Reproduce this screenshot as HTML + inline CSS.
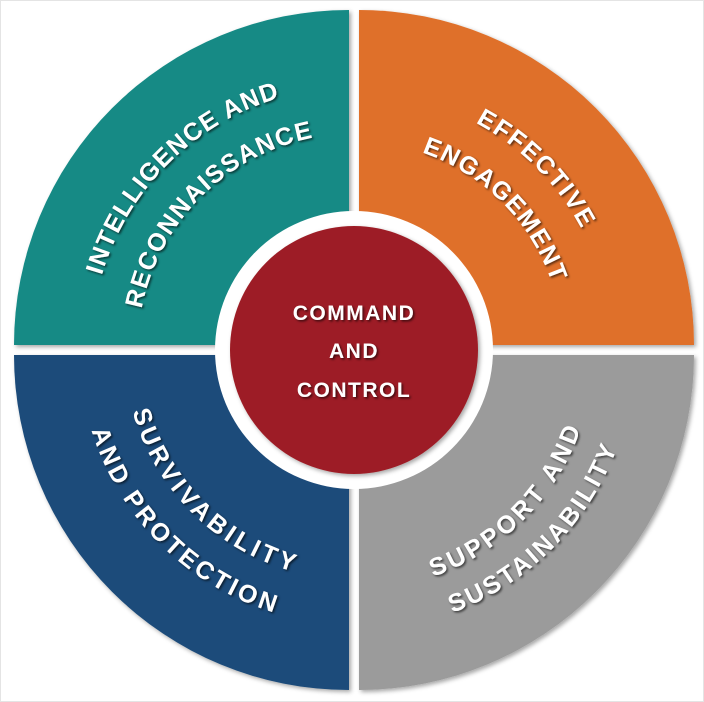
<!DOCTYPE html>
<html><head><meta charset="utf-8"><style>
html,body{margin:0;padding:0;background:#fff;}
svg{display:block;}
text{font-family:"Liberation Sans",sans-serif;font-weight:bold;fill:#fff;}
</style></head><body>
<svg width="704" height="702" viewBox="0 0 704 702" xmlns="http://www.w3.org/2000/svg">
<defs>
<filter id="ts" x="-20%" y="-20%" width="140%" height="140%"><feDropShadow dx="1.5" dy="1.5" stdDeviation="1" flood-color="#000" flood-opacity="0.6"/></filter>
<filter id="qs" x="-10%" y="-10%" width="120%" height="120%"><feDropShadow dx="2" dy="2" stdDeviation="2" flood-color="#000" flood-opacity="0.35"/></filter>
<path id="t263" d="M -262,-22.9 A 263 263 0 0 1 262,-22.9"/>
<path id="t216" d="M -215.2,-18.8 A 216 216 0 0 1 215.2,-18.8"/>
<path id="t258" d="M -257,-22.5 A 258 258 0 0 1 257,-22.5"/>
<path id="t209" d="M -208.2,-18.2 A 209 209 0 0 1 208.2,-18.2"/>
<path id="b230" d="M -229.1,20.1 A 230 230 0 0 0 229.1,20.1"/>
<path id="b274" d="M -273,23.9 A 274 274 0 0 0 273,23.9"/>
<path id="b240" d="M -239.1,20.9 A 240 240 0 0 0 239.1,20.9"/>
<path id="b281" d="M -279.9,24.5 A 281 281 0 0 0 279.9,24.5"/>
</defs>
<rect x="0.5" y="0.5" width="703" height="701" fill="#fff" stroke="#e4e4e4"/>
<g filter="url(#qs)">
<path d="M349,345 L14,345 A335,335 0 0 1 349,10 Z" fill="#138a85"/>
<path d="M359,345 L359,10 A335,335 0 0 1 694,345 Z" fill="#df7029"/>
<path d="M349,355 L14,355 A335,335 0 0 0 349,690 Z" fill="#1d4c7a"/>
<path d="M359,355 L694,355 A335,335 0 0 1 359,690 Z" fill="#9b9b9b"/>
</g>
<circle cx="354" cy="350" r="139" fill="#fff"/>
<circle cx="354" cy="350" r="124" fill="#9d1f25" filter="url(#qs)"/>
<g font-size="25" filter="url(#ts)" text-anchor="middle">
<g transform="translate(354,350) rotate(-45)">
<text><textPath href="#t263" startOffset="50%" textLength="262" lengthAdjust="spacing">INTELLIGENCE AND</textPath></text>
<text><textPath href="#t216" startOffset="50%" textLength="257" lengthAdjust="spacing">RECONNAISSANCE</textPath></text>
</g>
<g transform="translate(354,350) rotate(45)">
<text><textPath href="#t258" startOffset="50%" textLength="152" lengthAdjust="spacing">EFFECTIVE</textPath></text>
<text><textPath href="#t209" startOffset="50%" textLength="190" lengthAdjust="spacing">ENGAGEMENT</textPath></text>
</g>
<g transform="translate(354,350) rotate(45)">
<text><textPath href="#b230" startOffset="50%" textLength="237" lengthAdjust="spacing">SURVIVABILITY</textPath></text>
<text><textPath href="#b274" startOffset="50%" textLength="268" lengthAdjust="spacing">AND PROTECTION</textPath></text>
</g>
<g transform="translate(354,350) rotate(-45)">
<text><textPath href="#b240" startOffset="50%" textLength="216" lengthAdjust="spacing">SUPPORT AND</textPath></text>
<text><textPath href="#b281" startOffset="50%" textLength="240" lengthAdjust="spacing">SUSTAINABILITY</textPath></text>
</g>
<g font-size="21" letter-spacing="1.5">
<text x="354" y="320">COMMAND</text>
<text x="354" y="358">AND</text>
<text x="354" y="397">CONTROL</text>
</g>
</g>
</svg>
</body></html>
